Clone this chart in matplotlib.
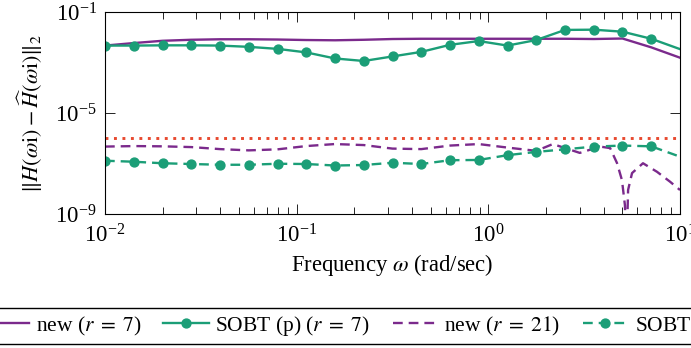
import numpy as np
import matplotlib
matplotlib.use("Agg")
from matplotlib import pyplot as plt

plt.rcParams['font.family'] = ['Liberation Serif', 'DejaVu Serif']
plt.rcParams['mathtext.fontset'] = 'stix'
plt.rcParams['font.size'] = 15.5
plt.rcParams['lines.scale_dashes'] = False

# frequency grid (rad/sec), 21 log-spaced points from 1e-2 to 1e1
omega = np.logspace(-2, 1, 21)

# log10 of the error
new_r7 = [-2.33, -2.23, -2.14, -2.10, -2.08, -2.08, -2.09, -2.11, -2.12, -2.10,
          -2.07, -2.06, -2.06, -2.06, -2.06, -2.06, -2.06, -2.07, -2.05, -2.40, -2.81]
sobt_r7 = [-2.33, -2.33, -2.32, -2.32, -2.33, -2.38, -2.46, -2.60, -2.84, -2.94,
           -2.76, -2.58, -2.30, -2.15, -2.33, -2.11, -1.71, -1.70, -1.78, -2.06, -2.47]
sobt_r21 = [-6.89, -6.93, -6.99, -7.02, -7.05, -7.05, -7.01, -7.02, -7.08, -7.06,
            -6.97, -7.02, -6.87, -6.86, -6.67, -6.54, -6.44, -6.33, -6.29, -6.32, -6.73]

omega_r21 = [0.01, 0.0142, 0.0200, 0.0282, 0.0398, 0.0562, 0.0794, 0.112, 0.158, 0.224,
             0.316, 0.447, 0.631, 0.891, 1.26, 1.78, 2.17, 3.0, 3.83, 4.32, 4.69,
             4.98, 5.16, 5.26, 5.36, 5.62, 6.41, 7.59, 8.87, 10.0]
new_r21 = [-6.33, -6.31, -6.32, -6.35, -6.43, -6.48, -6.44, -6.31, -6.23, -6.27,
           -6.41, -6.43, -6.29, -6.23, -6.37, -6.50, -6.23, -6.58, -6.33, -6.39, -6.98,
           -7.66, -8.65, -10.5, -8.05, -7.38, -6.99, -7.33, -7.72, -8.05]

tol = 1.07e-6

purple = '#7b2a8c'
green = '#1b9e77'
red = '#e8492f'

fig = plt.figure(figsize=(6.91, 3.48), dpi=100)
ax = fig.add_axes([105 / 691, 1 - 214 / 348, 575 / 691, 202 / 348])

lw = 1.7
ms = 6.4
ax.plot(omega, 10 ** np.array(new_r7), color=purple, lw=lw, label=r'new ($r\;=\;7$)')
ax.plot(omega, 10 ** np.array(sobt_r7), color=green, lw=lw, marker='o', ms=ms,
        markevery=list(range(20)), label=r'SOBT (p) ($r\;=\;7$)')
ax.plot(omega_r21, 10 ** np.array(new_r21), color=purple, lw=lw,
        dashes=(7, 4.3), label=r'new ($r\;=\;21$)')
ax.plot(omega, 10 ** np.array(sobt_r21), color=green, lw=lw, marker='o', ms=ms,
        markevery=list(range(20)), dashes=(7, 4.3), label=r'SOBT (p) ($r\;=\;21$)')
ax.axhline(tol, color=red, lw=2.1, dashes=(2.1, 4.0))

ax.set_xscale('log')
ax.set_yscale('log')
ax.set_xlim(1e-2, 1e1)
ax.set_ylim(1e-9, 1e-1)
ax.set_yticks([1e-9, 1e-5, 1e-1])
ax.yaxis.set_minor_locator(matplotlib.ticker.NullLocator())
ax.tick_params(which='both', direction='in', top=True, right=True, width=0.6)
ax.tick_params(which='major', length=7.5, labelsize=16.5)
ax.tick_params(axis='x', which='major', pad=7.5)
ax.tick_params(axis='y', which='major', pad=6)
ax.tick_params(which='minor', length=4.7)
for s in ax.spines.values():
    s.set_linewidth(0.8)

ax.set_xlabel(r'Frequency $\omega$ (rad/sec)', labelpad=3, fontsize=16.3)
ax.set_ylabel(r'$\|H(\omega\mathrm{i})-\widehat{H}(\omega\mathrm{i})\|_2$',
              labelpad=7, fontsize=16)

fig.legend(loc='center', bbox_to_anchor=(392 / 691, 1 - 326 / 348), ncol=4,
           frameon=True, fancybox=False, edgecolor='black', framealpha=1,
           borderpad=0.3, handlelength=2.1, handletextpad=0.3, columnspacing=1.05)

fig.savefig('out.png', dpi=100)
